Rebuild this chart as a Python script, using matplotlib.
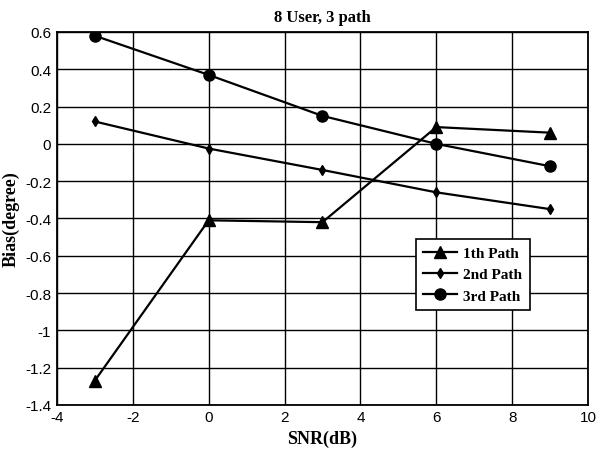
import matplotlib.pyplot as plt

plt.rcParams['axes.unicode_minus'] = False

snr = [-3, 0, 3, 6, 9]
path1 = [-1.27, -0.41, -0.42, 0.09, 0.06]
path2 = [0.12, -0.025, -0.14, -0.26, -0.35]
path3 = [0.58, 0.37, 0.15, 0.0, -0.12]
labels = ['1th Path', '2nd Path', '3rd Path']

serif = {'family': 'Liberation Serif', 'weight': 'bold'}

fig = plt.figure(figsize=(6.05, 4.52), dpi=100)
ax = fig.add_axes([0.094, 0.102, 0.878, 0.825])

ax.plot(snr, path1, color='black', lw=1.6, marker='^', ms=9, label=labels[0])
ax.plot(snr, path2, color='black', lw=1.6, marker='d', ms=5, label=labels[1])
ax.plot(snr, path3, color='black', lw=1.6, marker='o', ms=8, label=labels[2])

ax.set_xlim(-4, 10)
ax.set_ylim(-1.4, 0.6)
ax.set_xticks(range(-4, 11, 2))
ax.set_yticks([-1.4, -1.2, -1, -0.8, -0.6, -0.4, -0.2, 0, 0.2, 0.4, 0.6])
ax.set_yticklabels(['-1.4', '-1.2', '-1', '-0.8', '-0.6', '-0.4', '-0.2', '0', '0.2', '0.4', '0.6'])
ax.grid(True, color='black', lw=1.0)
ax.tick_params(direction='in', length=0, labelsize=11, pad=4)
for t in ax.get_xticklabels() + ax.get_yticklabels():
    t.set_family('Liberation Sans')
for s in ax.spines.values():
    s.set_linewidth(1.3)

ax.set_title('8 User, 3 path', fontdict=serif, fontsize=12, pad=8)
ax.set_xlabel('SNR(dB)', fontdict=serif, fontsize=13, labelpad=4)
ax.set_ylabel('Bias(degree)', fontdict=serif, fontsize=13, labelpad=4)

leg = ax.legend(loc='center right', bbox_to_anchor=(0.89, 0.35), prop={'family': 'Liberation Serif', 'weight': 'bold', 'size': 11},
                fancybox=False, edgecolor='black', framealpha=1, handlelength=2.2, handletextpad=0.4,
                borderpad=0.5, labelspacing=0.5, borderaxespad=0)
leg.get_frame().set_linewidth(1.2)

fig.savefig('out.png', dpi=100)
